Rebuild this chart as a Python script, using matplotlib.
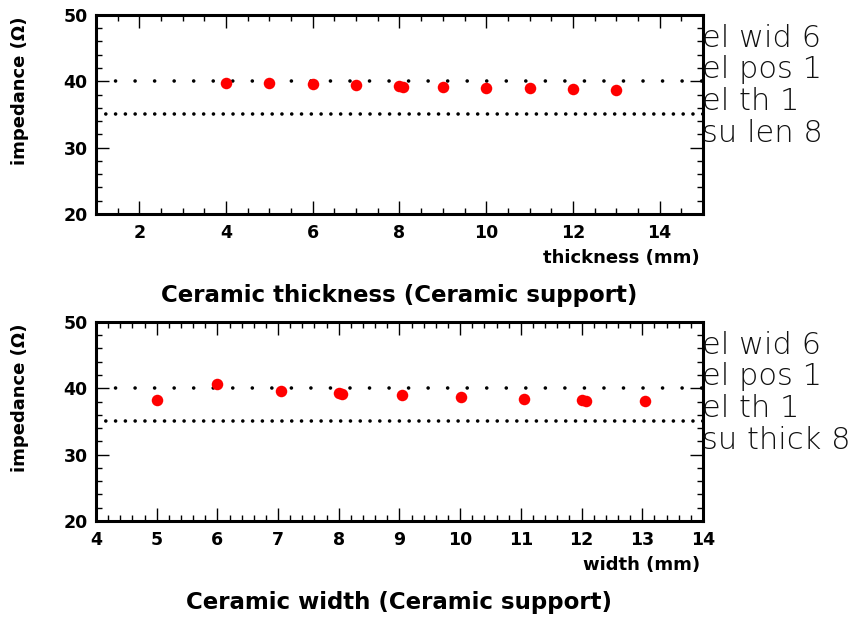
import matplotlib
matplotlib.use('Agg')
import matplotlib.pyplot as plt
from matplotlib.ticker import MultipleLocator

plt.rcParams['font.family'] = ['DejaVu Sans']

# top panel: ceramic thickness scan
thick_x = [4, 5, 6, 7, 8, 8.07, 9, 10, 11, 12, 13]
thick_z = [39.75, 39.7, 39.65, 39.5, 39.3, 39.2, 39.2, 39.05, 39.0, 38.85, 38.75]

# bottom panel: ceramic width scan
width_x = [5.0, 6.0, 7.05, 8.0, 8.06, 9.04, 10.02, 11.05, 12.0, 12.07, 13.05]
width_z = [38.3, 40.65, 39.6, 39.25, 39.2, 39.0, 38.65, 38.45, 38.2, 38.15, 38.05]

ref_lines = [40, 35]
ref_gaps = [5.4, 2.7]

top_notes = ['el wid 6', 'el pos 1', 'el th 1', 'su len 8']
bot_notes = ['el wid 6', 'el pos 1', 'el th 1', 'su thick 8']

panels = [
    dict(x=thick_x, z=thick_z, xlim=(1, 15), major=2, minor=0.5,
         xlabel='thickness (mm)', title='Ceramic thickness (Ceramic support)',
         notes=top_notes, rect=[0.1116, 0.656, 0.7058, 0.32]),
    dict(x=width_x, z=width_z, xlim=(4, 14), major=1, minor=0.2,
         xlabel='width (mm)', title='Ceramic width (Ceramic support)',
         notes=bot_notes, rect=[0.1116, 0.1624, 0.7058, 0.32]),
]

fig = plt.figure(figsize=(8.6, 6.22), dpi=100)

for p in panels:
    ax = fig.add_axes(p['rect'])
    ax.set_xlim(*p['xlim'])
    ax.set_ylim(20, 50)

    for yv, gap in zip(ref_lines, ref_gaps):
        ax.axhline(yv, color='black', lw=2.6, linestyle=(0, (0.01, gap)),
                   dash_capstyle='round', zorder=2)

    ax.plot(p['x'], p['z'], 'o', color='#ff0000', markersize=8.3,
            markeredgewidth=0, zorder=3)

    ax.xaxis.set_major_locator(MultipleLocator(p['major']))
    ax.xaxis.set_minor_locator(MultipleLocator(p['minor']))
    ax.yaxis.set_major_locator(MultipleLocator(10))
    ax.yaxis.set_minor_locator(MultipleLocator(2))
    ax.tick_params(which='both', direction='in', top=True, right=True,
                   width=1.0, labelsize=12.5)
    ax.tick_params(which='major', length=9.5)
    ax.tick_params(which='minor', length=4.5)
    ax.tick_params(axis='x', pad=7)
    ax.tick_params(axis='y', pad=6)
    for lab in ax.get_xticklabels() + ax.get_yticklabels():
        lab.set_fontweight('bold')
    for s in ax.spines.values():
        s.set_linewidth(2.2)

    ax.text(0.995, -0.221, p['xlabel'], transform=ax.transAxes,
            ha='right', va='center', fontsize=13, fontweight='bold')
    ax.text(0.5, -0.412, p['title'], transform=ax.transAxes,
            ha='center', va='center', fontsize=16.5, fontweight='bold')
    ax.text(-0.125, 0.99, 'impedance (\u03a9)', transform=ax.transAxes,
            rotation=90, ha='center', va='top', fontsize=13,
            fontweight='bold')

    for i, note in enumerate(p['notes']):
        ax.text(0.998, 0.841 - 0.16 * i, note, transform=ax.transAxes,
                ha='left', va='baseline', fontsize=22, fontweight='light',
                color='#111111')

fig.savefig('out.png', dpi=100)
